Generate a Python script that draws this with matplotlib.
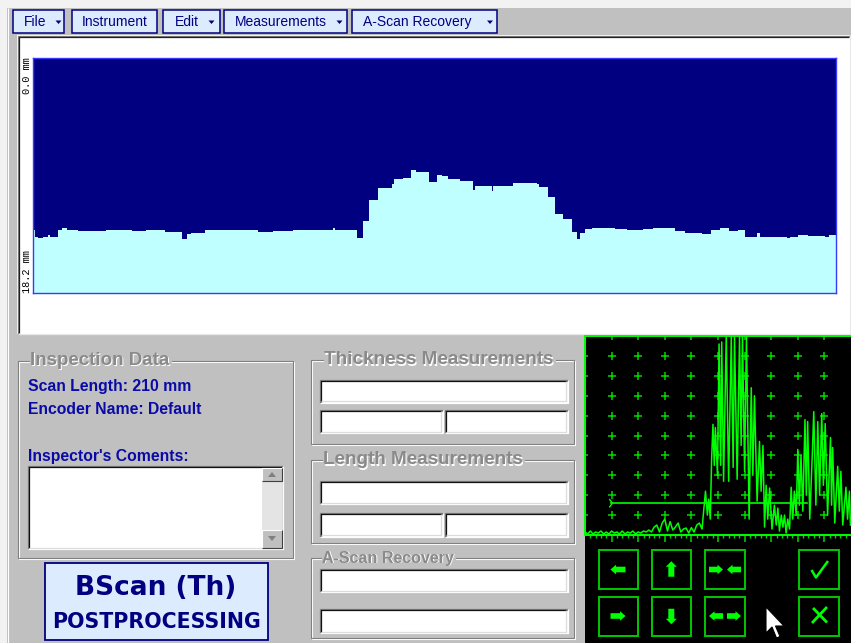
import numpy as np
import matplotlib
matplotlib.use('Agg')
import matplotlib.pyplot as plt
from matplotlib.patches import Rectangle, Polygon

# ---------------- data ----------------
scan_length_mm = 210
scan_depth_top_mm = 0.0
scan_depth_bottom_mm = 18.2
scan_edges_mm = [0, 0.5, 1.2, 2.7, 4.0, 4.4, 6.5, 7.5, 8.8, 11.8, 19.0, 26.0, 29.6, 34.5, 38.9,
                 40.2, 41.3, 45.0, 58.9, 62.7, 68.1, 78.5, 79.0, 84.8, 86.2, 87.9, 90.3, 94.0,
                 94.5, 96.7, 98.9, 100.2, 103.6, 105.7, 106.9, 108.6, 111.7, 115.1, 115.6, 120.0,
                 120.2, 125.6, 131.7, 132.4, 134.8, 136.5, 138.7, 140.9, 142.2, 143.1, 144.4,
                 146.1, 152.2, 155.3, 159.6, 162.2, 167.9, 170.6, 172.3, 174.9, 177.2, 179.7,
                 182.1, 184.5, 186.2, 189.3, 190.1, 197.1, 198.0, 200.1, 202.7, 207.1, 208.2, 210]
thickness_mm = [13.34, 13.90, 13.96, 13.83, 13.70, 13.83, 13.30, 13.14, 13.30, 13.42,
                13.34, 13.42, 13.34, 13.50, 14.01, 13.63, 13.52, 13.34, 13.50, 13.42,
                13.34, 13.20, 13.34, 13.96, 12.59, 10.96, 10.08, 9.77, 9.38, 9.26,
                8.66, 8.84, 9.62, 9.07, 9.13, 9.36, 9.49, 10.21, 9.90, 10.27,
                9.90, 9.65, 9.75, 9.96, 10.73, 12.07, 12.49, 13.45, 14.01, 13.52,
                13.24, 13.14, 13.24, 13.30, 13.24, 13.14, 13.39, 13.57, 13.52, 13.63,
                13.34, 13.20, 13.42, 13.34, 13.83, 13.57, 13.83, 13.96, 13.83, 13.73,
                13.76, 13.83, 13.73]

# A-scan: time in screen divisions, amplitude in % screen height
ascan_t_early = [round(0.1 * i, 1) for i in range(44)]
ascan_a_early = [1.5, 0.5, 2, 0.5, 1.5, 1, 2, 0.5, 1.5, 0.5, 2, 1, 1.5, 0.5, 2, 0.5, 1.5, 1, 2, 0.5,
                 1.5, 1, 2,
                 1.5, 2.5, 1.5, 4, 5, 1.5, 6, 8, 2, 6.7, 2.5, 4, 6, 1.5, 3, 3.5, 1, 3.7, 1.5, 5, 6]
ascan_t_late = [4.40, 4.46, 4.53, 4.60, 4.65, 4.71, 4.76, 4.81, 4.86, 4.90, 4.98, 5.04, 5.10, 5.14,
                5.21, 5.31, 5.40, 5.50, 5.57, 5.62, 5.72, 5.81, 5.87, 5.92, 6.00, 6.07, 6.17, 6.25,
                6.31, 6.37, 6.47, 6.56, 6.62, 6.69, 6.75, 6.81, 6.87, 6.94, 7.03, 7.12, 7.19, 7.25,
                7.31, 7.38, 7.44, 7.50, 7.56, 7.62, 7.69, 7.75, 7.81, 7.87, 7.94, 8.00, 8.06, 8.12,
                8.19, 8.27, 8.32, 8.37, 8.45, 8.53, 8.60, 8.68, 8.75, 8.82, 8.90, 8.96, 9.03, 9.12,
                9.23, 9.27, 9.31, 9.39, 9.50, 9.56, 9.62, 9.69, 9.81, 9.87, 9.94, 9.98]
ascan_a_late = [3, 12, 22, 10, 18, 8, 38, 55.6, 35, 54, 30, 96, 35, 97, 27, 100, 27, 100, 34, 100,
                28, 100, 45, 100, 32, 100, 8, 74, 30, 70, 17, 47, 22, 45, 4, 25, 8, 23.6, 3, 15,
                5, 13.5, 2, 10, 4, 10, 1, 8, 3, 24, 8, 22, 10, 43, 15, 40, 12, 58, 20, 57,
                8, 35, 62, 15, 57, 20, 61, 25, 56, 10, 49, 15, 44, 6, 34.5, 12, 32, 5, 24, 8,
                22, 5]
gate_start_div, gate_end_div, gate_level_pct = 0.98, 8.36, 16

menu_labels = ['File', 'Instrument', 'Edit', 'Measurements', 'A-Scan Recovery']
menu_has_arrow = [True, False, True, True, True]
info_lines = ['Scan Length: 210 mm', 'Encoder Name: Default']
comments_label = "Inspector's Coments:"

# ---------------- figure ----------------
W, H = 851, 643
fig = plt.figure(figsize=(W / 100, H / 100), dpi=100)
fig.patch.set_facecolor('#C0C0C0')
ax0 = fig.add_axes([0, 0, 1, 1])
ax0.set_xlim(0, W)
ax0.set_ylim(H, 0)
ax0.axis('off')
ax0.set_zorder(0)

FONT = 'Liberation Sans'
NAVY = '#000080'
BLUE_TXT = '#0A0AA8'


def rect(x0, y0, x1, y1, fc, ec='none', lw=0, z=1, **kw):
    ax0.add_patch(Rectangle((x0, y0), x1 - x0, y1 - y0, facecolor=fc, edgecolor=ec,
                            linewidth=lw, zorder=z, **kw))


def line(xs, ys, c, lw=1.0, z=3):
    ax0.plot(xs, ys, color=c, lw=lw, zorder=z, solid_capstyle='butt')


def sunken(x0, y0, x1, y1, fc='white'):
    rect(x0, y0, x1, y1, fc, z=2)
    line([x0, x0, x1], [y1, y0, y0], '#808080', 0.9)
    line([x0 + 1.2, x0 + 1.2, x1 - 1], [y1 - 1, y0 + 1.2, y0 + 1.2], '#101010', 0.9)
    line([x0, x1, x1], [y1, y1, y0], '#FFFFFF', 0.9)
    line([x0 + 1, x1 - 1.2, x1 - 1.2], [y1 - 1.2, y1 - 1.2, y0 + 1], '#DCDCDC', 0.9)


def raised(x0, y0, x1, y1):
    rect(x0, y0, x1, y1, '#C0C0C0', z=3)
    line([x0, x0, x1], [y1, y0, y0], '#FFFFFF', 0.8, z=4)
    line([x0, x1, x1], [y1, y1, y0], '#404040', 0.8, z=4)


def group(x0, y0, x1, y1, title, tx, fs):
    ax0.add_patch(Rectangle((x0 + 1, y0 + 1), x1 - x0, y1 - y0, fill=False, ec='white', lw=0.8, zorder=2))
    ax0.add_patch(Rectangle((x0, y0), x1 - x0, y1 - y0, fill=False, ec='#808080', lw=0.8, zorder=2))
    ax0.text(tx + 1, y0 + 1, title, color='white', fontsize=fs, fontweight='bold', family=FONT,
             ha='left', va='center', zorder=4,
             bbox=dict(facecolor='#C0C0C0', edgecolor='none', pad=1.0))
    ax0.text(tx, y0, title, color='#8A8A8A', fontsize=fs, fontweight='bold', family=FONT,
             ha='left', va='center', zorder=5)


# outer light frame
rect(0, 0, W, 8, '#F2F2F2', z=0.5)
rect(0, 0, 7, H, '#F2F2F2', z=0.5)
line([7.5, 7.5], [8, H], '#FFFFFF', 0.8, z=0.6)

# ---------------- toolbar ----------------
menu_x = [(13, 64), (72, 157), (163, 220), (224, 347), (352, 497)]
menu_tx = [24, None, 175, 235, 363]
menu_tri = [58.5, None, 211.5, 339.5, 490]
for (a, b), lab, has, tx, tri in zip(menu_x, menu_labels, menu_has_arrow, menu_tx, menu_tri):
    rect(a, 10, b, 33, '#DDEBFF', NAVY, 1.1, z=3)
    if has:
        ax0.text(tx, 22, lab, color=NAVY, fontsize=10, family=FONT, ha='left', va='center', zorder=4)
        ax0.add_patch(Polygon([[tri - 3, 20.5], [tri + 3, 20.5], [tri, 24]], closed=True,
                              facecolor=NAVY, edgecolor='none', zorder=4))
    else:
        ax0.text((a + b) / 2, 22, lab, color=NAVY, fontsize=10, family=FONT, ha='center',
                 va='center', zorder=4)

# ---------------- B-scan panel ----------------
rect(17, 35, 850, 334, 'white', z=1)
line([17.5, 17.5, 850], [334, 35.5, 35.5], '#808080', 0.9)
line([19, 19, 849], [333, 37, 37], '#202020', 0.9)
line([18, 850, 850], [334, 334, 35], '#E8E8E8', 0.9)

axb = fig.add_axes([33 / W, 1 - 293 / H, (836 - 33) / W, (293 - 58) / H])
axb.set_facecolor(NAVY)
axb.stairs(thickness_mm, scan_edges_mm, baseline=scan_depth_bottom_mm, fill=True,
           color='#C0FFFF', linewidth=0)
axb.set_xlim(0, scan_length_mm)
axb.set_ylim(scan_depth_bottom_mm, scan_depth_top_mm)
axb.set_xticks([])
axb.set_yticks([])
for s in axb.spines.values():
    s.set_color('#3A3AFF')
    s.set_linewidth(1.0)

ax0.text(27, 57, f'{scan_depth_top_mm:.1f} mm', rotation=90, fontsize=7.4,
         family='Liberation Mono', ha='center', va='top', color='black', zorder=4)
ax0.text(27, 293, f'{scan_depth_bottom_mm:.1f} mm', rotation=90, fontsize=7.4,
         family='Liberation Mono', ha='center', va='bottom', color='black', zorder=4)

# ---------------- left panel ----------------
group(18, 360.5, 293, 558, 'Inspection Data', 30, 13.5)
for yy, txt in zip([386, 409, 456], info_lines + [comments_label]):
    ax0.text(28, yy, txt, color=BLUE_TXT, fontsize=11.3, fontweight='bold', family=FONT,
             ha='left', va='center', zorder=4)
sunken(27.5, 466, 283, 549)
# scrollbar
rect(262, 481, 281.5, 530, '#E4E4E4', z=3, hatch='....', )
raised(262, 467.5, 281.5, 481)
raised(262, 530, 281.5, 547.5)
ax0.add_patch(Polygon([[268, 477], [276, 477], [272, 472]], closed=True, fc='#808080', ec='none', zorder=5))
ax0.add_patch(Polygon([[268, 536], [276, 536], [272, 541]], closed=True, fc='#808080', ec='none', zorder=5))

# logo
rect(44.5, 563, 267.5, 640, '#DDEBFF', NAVY, 1.3, z=3)
ax0.text(156, 588, 'BScan (Th)', color=NAVY, fontsize=19, fontweight='bold', family='DejaVu Sans',
         ha='center', va='center', zorder=4)
ax0.text(156, 622, 'POSTPROCESSING', color=NAVY, fontsize=14.8, fontweight='bold', family='DejaVu Sans',
         ha='center', va='center', zorder=4)

# ---------------- middle panels ----------------
group(311, 360, 574, 444, 'Thickness Measurements', 324, 13.6)
sunken(320, 379.5, 567.5, 402.5)
sunken(320, 409.5, 442.5, 433)
sunken(444.5, 409.5, 567.5, 433)
group(311, 460, 574, 543, 'Length Measurements', 323, 13.6)
sunken(320, 481, 567.5, 504)
sunken(320, 513, 442.5, 536.5)
sunken(444.5, 513, 567.5, 536.5)
group(311, 558, 574, 638, 'A-Scan Recovery', 322, 11.5)
sunken(320, 569, 567.5, 592)
sunken(320, 609, 567.5, 633)

# ---------------- A-scan panel ----------------
GREEN = '#00FF00'
GRID_G = '#00D800'
rect(585, 335, W, H, 'black', z=1)
axa = fig.add_axes([585 / W, 1 - 535 / H, (W - 585) / W, (535 - 336) / H])
axa.set_facecolor('black')
axa.set_xlim(0, 10)
axa.set_ylim(0, 100)
axa.set_xticks([])
axa.set_yticks([])
axa.spines['right'].set_visible(False)
for k in ['left', 'top', 'bottom']:
    axa.spines[k].set_color(GREEN)
    axa.spines[k].set_linewidth(1.4)

cols = [1, 2, 3, 4, 5, 6, 7, 8, 9]
rows = [10, 20, 30, 40, 50, 60, 70, 80, 90]
gx, gy = np.meshgrid(cols, rows)
axa.plot(gx.ravel(), gy.ravel(), '+', color=GRID_G, ms=5.5, mew=1.1, zorder=1)
axa.vlines(cols, 97.8, 100, color=GRID_G, lw=1.1, zorder=1)
axa.hlines(rows, 0, 0.1, color=GRID_G, lw=1.1, zorder=1)
minor = [i / 5 for i in range(1, 50) if i % 5 != 0]
axa.vlines(minor, -1.6, 0, color=GRID_G, lw=1.0, clip_on=False, zorder=1)
axa.vlines(cols, -3.4, 0, color=GRID_G, lw=1.1, clip_on=False, zorder=1)

t_all = ascan_t_early + ascan_t_late
a_all = ascan_a_early + ascan_a_late
axa.plot(t_all, a_all, color=GREEN, lw=1.1, zorder=3, clip_on=True)
axa.plot([gate_start_div, gate_end_div], [gate_level_pct, gate_level_pct], color=GREEN, lw=1.2, zorder=4)
axa.plot([gate_start_div - 0.05, gate_start_div + 0.05, gate_start_div - 0.05],
         [gate_level_pct + 1.8, gate_level_pct, gate_level_pct - 1.8], color=GREEN, lw=1.0, zorder=4)

# ---------------- buttons ----------------
BTN_G = '#00C800'


def arrow(cx, cy, d, L=15, hl=5.5, h=4.8, s=2.8):
    x0, xb, xt = -L / 2, L / 2 - hl, L / 2
    pts = np.array([[x0, -s], [xb, -s], [xb, -h], [xt, 0], [xb, h], [xb, s], [x0, s]])
    rot = {'r': np.array([[1, 0], [0, 1]]), 'l': np.array([[-1, 0], [0, 1]]),
           'u': np.array([[0, 1], [-1, 0]]), 'd': np.array([[0, 1], [1, 0]])}[d]
    p = pts @ rot.T + np.array([cx, cy])
    ax0.add_patch(Polygon(p, closed=True, facecolor=GREEN, edgecolor='none', zorder=6))


bx = [(598.5, 637.5), (651.5, 691), (705, 745), (799, 839)]
by = [(550, 589), (596.5, 636)]
for (a, b) in bx:
    for (c, d) in by:
        ax0.add_patch(Rectangle((a, c), b - a, d - c, fill=False, ec=BTN_G, lw=1.4, zorder=5))
arrow(618, 569.5, 'l')
arrow(671.3, 569, 'u', L=15.5, h=5.5, s=3)
arrow(716, 569.5, 'r', L=14)
arrow(734, 569.5, 'l', L=14)
arrow(618, 616, 'r')
arrow(671.3, 616.5, 'd', L=15.5, h=5.5, s=3)
arrow(716, 616, 'l', L=14)
arrow(734, 616, 'r', L=14)
line([811.5, 816, 828], [570, 577.5, 561], GREEN, 1.8, z=6)
line([812, 827], [623, 607], GREEN, 2.0, z=6)
line([813, 827], [608, 622.5], GREEN, 2.0, z=6)

# mouse cursor
cur = np.array([[0, 0], [0, 26], [6, 20], [10.5, 31], [14, 29.5], [9.5, 19], [18, 19]]) + np.array([766, 607])
ax0.add_patch(Polygon(cur, closed=True, facecolor='white', edgecolor='black', lw=0.8, zorder=8))

fig.savefig('out.png', dpi=100, facecolor=fig.get_facecolor())
